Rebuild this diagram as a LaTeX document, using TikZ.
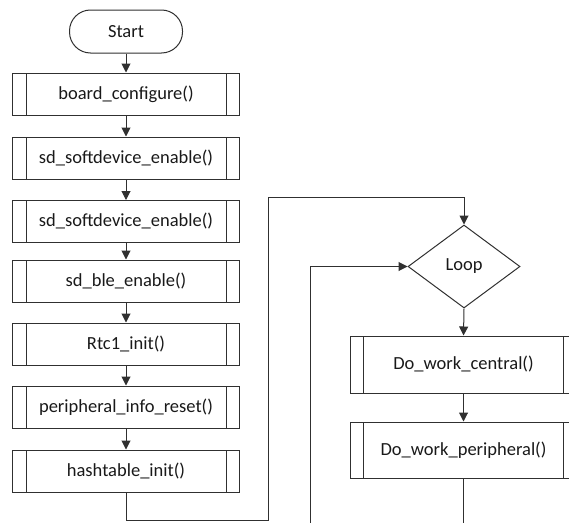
\documentclass[tikz,border=0pt]{standalone}
\usepackage{fontspec}
\setmainfont{Carlito}
\usetikzlibrary{shapes.geometric,arrows.meta}
\definecolor{ln}{HTML}{303030}
\tikzset{
  base/.style={draw=ln, line width=1pt, font=\fontsize{18.5}{21}\selectfont, text=black!90, inner sep=0pt},
  proc/.style={base, rectangle, minimum width=227pt, minimum height=42pt,
    path picture={\draw[ln, line width=1pt] ([xshift=13.5pt]path picture bounding box.north west) -- ([xshift=13.5pt]path picture bounding box.south west);
                  \draw[ln, line width=1pt] ([xshift=-13.5pt]path picture bounding box.north east) -- ([xshift=-13.5pt]path picture bounding box.south east);}},
  term/.style={base, rectangle, rounded corners=21pt, minimum width=113pt, minimum height=43pt},
  decide/.style={base, diamond, minimum width=112pt, minimum height=83pt},
  arr/.style={draw=ln, line width=1pt, -{Triangle[length=9pt,width=9pt]}},
  ln/.style={draw=ln, line width=1pt}
}
\begin{document}
\begin{tikzpicture}[x=1pt,y=-1pt]
\useasboundingbox (0,0) rectangle (569,522);
\clip (0,0) rectangle (569,522);
\node[term] (start) at (126,31.5) {Start};
\node[proc] (b1) at (126,94) {board\_configure()};
\node[proc] (b2) at (126,158) {sd\_softdevice\_enable()};
\node[proc] (b3) at (126,221.5) {sd\_softdevice\_enable()};
\node[proc] (b4) at (126,281) {sd\_ble\_enable()};
\node[proc] (b5) at (126,344) {Rtc1\_init()};
\node[proc] (b6) at (126,407) {peripheral\_info\_reset()};
\node[proc] (b7) at (126,471) {hashtable\_init()};
\node[decide] (loop) at (464,266.5) {Loop};
\node[proc, minimum height=57pt] (c1) at (463.5,364.5) {Do\_work\_central()};
\node[proc, minimum height=56pt] (c2) at (463.5,450) {Do\_work\_peripheral()};
\coordinate (back) at (310.5,530);
\coordinate (endc) at (463.5,530);
\draw[arr] (start) -- (b1);
\draw[arr] (b1) -- (b2);
\draw[arr] (b2) -- (b3);
\draw[arr] (b3) -- (b4);
\draw[arr] (b4) -- (b5);
\draw[arr] (b5) -- (b6);
\draw[arr] (b6) -- (b7);
\draw[arr] (b7.south) -- (126,520) -- (268,520) -- (268,197) -- (464,197) -- (loop.north);
\draw[arr] (back) -- (310.5,266.5) -- (loop.west);
\draw[arr] (loop.south) -- (c1.north);
\draw[arr] (c1) -- (c2);
\draw[ln] (c2.south) -- (endc);
\end{tikzpicture}
\end{document}
